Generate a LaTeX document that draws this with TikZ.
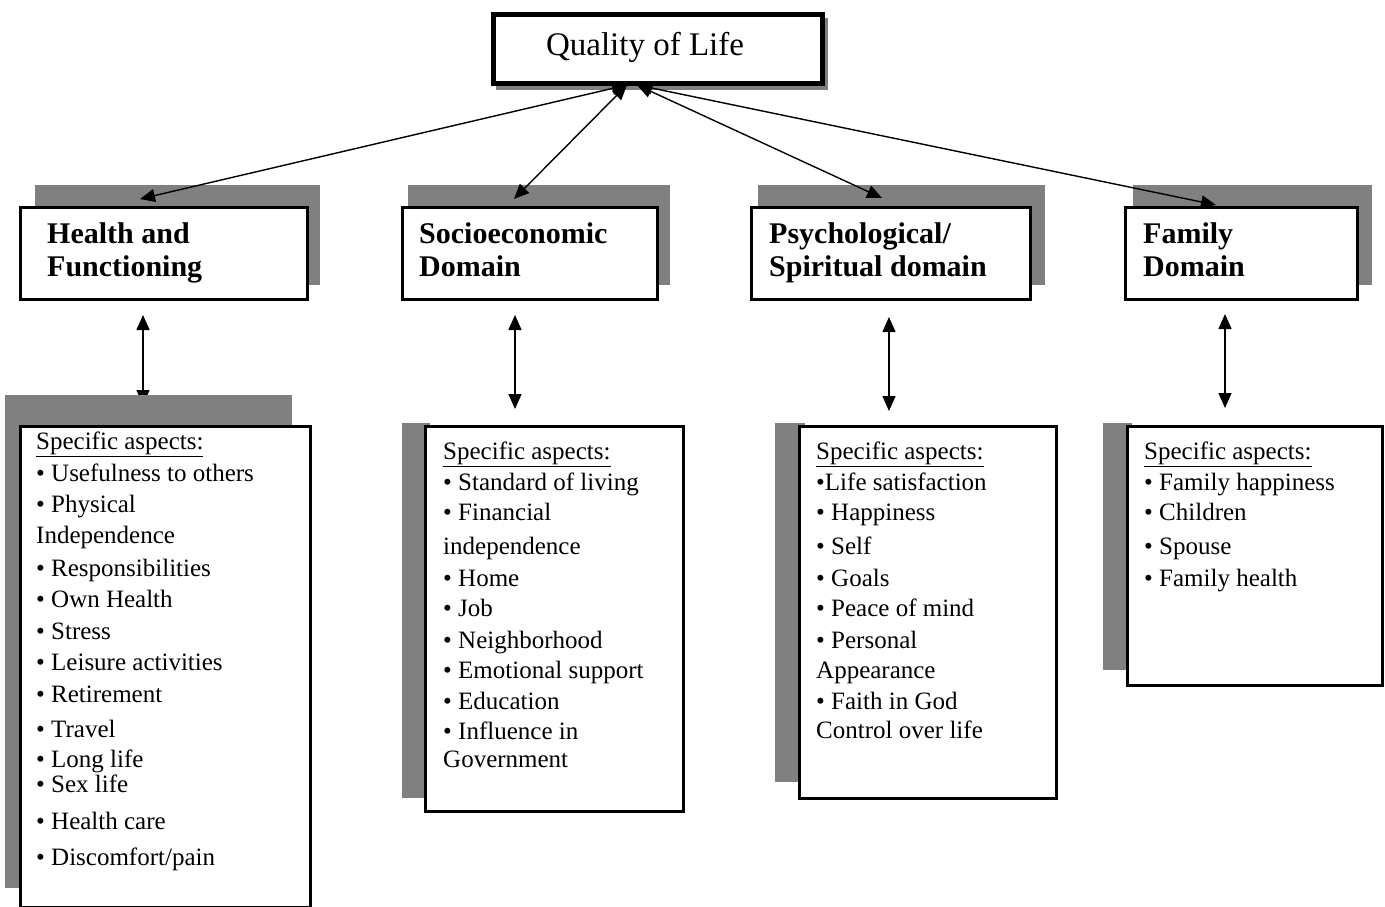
\documentclass[tikz,border=0pt]{standalone}
\usepackage{fontspec}
\setmainfont{Liberation Serif}
\usetikzlibrary{arrows.meta}
\definecolor{shade}{HTML}{808080}
\tikzset{
  x=1pt, y=-1pt,
  shadowrect/.style={fill=shade, draw=none},
  framebox/.style={draw=black, line width=3pt, fill=white, anchor=north west, inner sep=0pt},
  headtxt/.style={anchor=base west, inner sep=0pt, font=\fontsize{30}{33}\selectfont\bfseries},
  itemtxt/.style={anchor=base west, inner sep=0pt, font=\fontsize{25}{30}\selectfont},
  link/.style={line width=1.4pt, {Triangle[length=15pt,width=13pt]}-{Triangle[length=15pt,width=13pt]}},
}
\begin{document}
\begin{tikzpicture}
\useasboundingbox (0,0) rectangle (1385,907);

% ---- top box
\fill[shadowrect] (496,18) rectangle (828,90);
\node[framebox, line width=5pt, minimum width=329pt, minimum height=69pt] (qol) at (490.5,12.5) {};
\node[inner sep=0pt, font=\fontsize{33}{36}\selectfont] (qoltxt) at (645,47) {Quality of Life};

% ---- domain shadows
\fill[shadowrect] (35,185) rectangle (320,285);
\fill[shadowrect] (408,185) rectangle (670,285);
\fill[shadowrect] (758,185) rectangle (1045,285);
\fill[shadowrect] (1133,185) rectangle (1372,285);

% arrow end points
\coordinate (qa) at (627,85);
\coordinate (qb) at (637,85);
\coordinate (e1) at (140,199);
\coordinate (e2) at (514,199);
\coordinate (e3) at (882,198);
\coordinate (e4) at (1216,205);
\draw[link] (qa) -- (e1);
\draw[link] (qa) -- (e2);
\draw[link] (qb) -- (e3);
\draw[link] (qb) -- (e4);

% ---- domain boxes
\node[framebox, minimum width=287pt, minimum height=92pt] (d1) at (18.5,205.5) {};
\node[framebox, minimum width=255pt, minimum height=92pt] (d2) at (400.5,205.5) {};
\node[framebox, minimum width=279pt, minimum height=92pt] (d3) at (749.5,205.5) {};
\node[framebox, minimum width=232pt, minimum height=92pt] (d4) at (1123.5,205.5) {};

\node[headtxt] (h1a) at (47,243) {Health and};
\node[headtxt] (h1b) at (47,276) {Functioning};
\node[headtxt] (h2a) at (419,243) {Socioeconomic};
\node[headtxt] (h2b) at (419,276) {Domain};
\node[headtxt] (h3a) at (769,243) {Psychological/};
\node[headtxt] (h3b) at (769,276) {Spiritual domain};
\node[headtxt] (h4a) at (1143,243) {Family};
\node[headtxt] (h4b) at (1143,276) {Domain};

% ---- vertical links
\coordinate (v1t) at (143,315);
\coordinate (v1b) at (143,405);
\coordinate (v2t) at (515,315);
\coordinate (v2b) at (515,409);
\coordinate (v3t) at (889,317);
\coordinate (v3b) at (889,411);
\coordinate (v4t) at (1225,314);
\coordinate (v4b) at (1225,408);
\draw[link] (v1t) -- (v1b);
\draw[link] (v2t) -- (v2b);
\draw[link] (v3t) -- (v3b);
\draw[link] (v4t) -- (v4b);

% ---- aspect shadows
\fill[shadowrect] (5,395) rectangle (292,888);
\fill[shadowrect] (402,423) rectangle (430,798);
\fill[shadowrect] (775,423) rectangle (805,782);
\fill[shadowrect] (1103,423) rectangle (1132,670);

% ---- aspect boxes
\node[framebox, minimum width=290pt, minimum height=481pt] (a1) at (18.5,424.5) {};
\node[framebox, minimum width=258pt, minimum height=385pt] (a2) at (423.5,424.5) {};
\node[framebox, minimum width=257pt, minimum height=372pt] (a3) at (797.5,424.5) {};
\node[framebox, minimum width=255pt, minimum height=259pt] (a4) at (1125.5,424.5) {};

% ---- aspect texts
\foreach \yy/\tt [count=\i] in {449/{\underline{Specific aspects:}},
  481/{• Usefulness to others}, 512/{• Physical}, 543/{Independence},
  576/{• Responsibilities}, 607/{• Own Health}, 639/{• Stress},
  670/{• Leisure activities}, 702/{• Retirement}, 737/{• Travel},
  767/{• Long life}, 792/{• Sex life}, 829/{• Health care}, 865/{• Discomfort/pain}}
  \node[itemtxt] (t1-\i) at (36,\yy) {\tt};

\foreach \yy/\tt [count=\i] in {459/{\underline{Specific aspects:}},
  490/{• Standard of living}, 520/{• Financial}, 554/{independence},
  586/{• Home}, 616/{• Job}, 648/{• Neighborhood}, 678/{• Emotional support},
  709/{• Education}, 739/{• Influence in}, 767/{Government}}
  \node[itemtxt] (t2-\i) at (443,\yy) {\tt};

\foreach \yy/\tt [count=\i] in {459/{\underline{Specific aspects:}},
  490/{•Life satisfaction}, 520/{• Happiness}, 554/{• Self}, 586/{• Goals},
  616/{• Peace of mind}, 648/{• Personal}, 678/{Appearance},
  709/{• Faith in God}, 738/{Control over life}}
  \node[itemtxt] (t3-\i) at (816,\yy) {\tt};

\foreach \yy/\tt [count=\i] in {459/{\underline{Specific aspects:}},
  490/{• Family happiness}, 520/{• Children}, 554/{• Spouse}, 586/{• Family health}}
  \node[itemtxt] (t4-\i) at (1144,\yy) {\tt};
\end{tikzpicture}
\end{document}
